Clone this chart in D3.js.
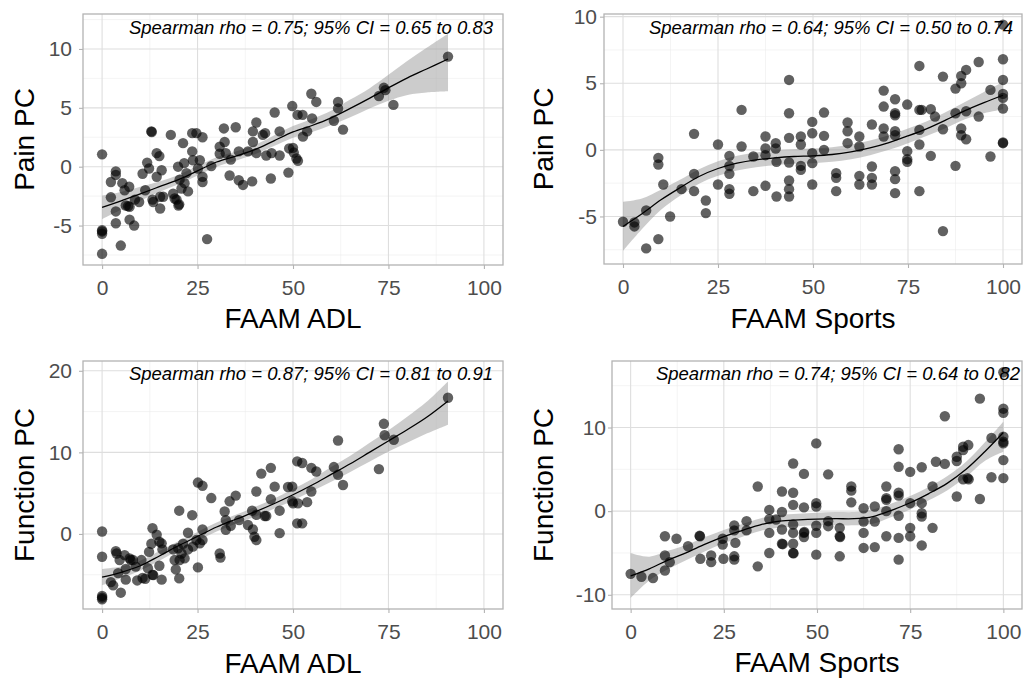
<!DOCTYPE html>
<html><head><meta charset="utf-8">
<script src="https://cdn.jsdelivr.net/npm/d3@7"></script>
<style>
body{margin:0;background:#fff}
svg{display:block}
text{font-family:"Liberation Sans",Arial,Helvetica,sans-serif}
</style>
</head><body>
<svg id="chart" width="1026" height="680"></svg>
<script>
// ---------- shared ticks ----------
const xTicks = [0, 25, 50, 75, 100];
const xMinor = [12.5, 37.5, 62.5, 87.5];

// ---------- Panel 1: Pain PC vs FAAM ADL ----------
const p1Points = [[0,1.05],[0,-5.4],[0,-5.5],[0,-5.7],[0,-7.4],[2.3,-1.3],[2.3,-2.6],[3.6,-0.4],[3.6,-0.7],[3.6,-3.8],[3.6,-4.8],[4.9,-6.7],[5.3,-1.4],[5.9,-2.0],[6.2,-3.3],[6.8,-3.35],[7.1,-1.7],[7.2,-3.4],[7.2,-4.5],[8.4,-5.0],[8.6,-2.8],[9.7,-3.0],[10.6,-0.6],[11.3,-2.0],[11.8,0.35],[12.3,-0.15],[12.9,3.0],[13.0,2.95],[13.2,-2.8],[13.4,-3.0],[14.3,1.15],[14.3,-0.85],[15.0,0.9],[15.2,-2.55],[15.2,-3.55],[15.6,-0.3],[16.0,-2.55],[18.0,2.7],[18.6,-2.3],[19.0,-2.7],[19.5,-2.8],[19.9,0],[20.0,-3.3],[20.2,-3.2],[20.3,-1.1],[20.8,-1.85],[21.2,2.0],[21.5,0.3],[21.6,-1.4],[22.1,-0.55],[22.5,-2.1],[23.6,2.85],[23.6,1.3],[23.8,0.55],[24.7,2.85],[25.1,-0.15],[25.6,0.55],[26.3,2.5],[26.3,-0.85],[26.3,-1.3],[27.5,-6.15],[28.6,0.05],[30.8,1.7],[30.8,1.1],[31.9,3.25],[32.1,2.1],[32.4,1.15],[33.4,-0.75],[33.7,0.6],[35.0,3.35],[35.8,-1.15],[35.8,1.3],[36.9,-1.55],[38.2,1.3],[39.3,-1.25],[39.5,3.0],[39.5,2.1],[40.4,3.75],[40.4,1.15],[42.1,2.7],[42.7,2.85],[43.0,0.95],[44.2,-1.0],[44.4,1.15],[45.2,4.6],[46.5,3.0],[46.5,0.95],[48.8,-0.5],[49.0,1.55],[49.8,5.15],[50.0,1.6],[50.2,1.2],[50.9,0.7],[51.3,0.5],[51.2,4.4],[52.5,4.4],[52.6,2.55],[53.7,3.0],[54.8,6.2],[55.0,4.1],[56.1,5.5],[60.7,3.9],[61.8,5.5],[61.8,4.95],[63.1,3.15],[72.5,6.0],[73.8,6.7],[74.2,6.5],[76.3,5.25],[90.6,9.35]];
const p1FitX = [0,5,10,15,20,25,30,35,40,45,50,55,60,65,70,75,80,85,90.6];
const p1Fit  = [-3.45,-2.9,-2.3,-1.7,-1.1,-0.35,0.4,0.9,1.45,2.2,2.95,3.5,4.15,4.95,5.8,6.7,7.55,8.3,9.15];
const p1Lo   = [-4.45,-3.65,-2.9,-2.15,-1.5,-0.75,0.0,0.5,1.05,1.75,2.45,2.95,3.55,4.2,4.95,5.6,6.1,6.3,6.4];
const p1Hi   = [-2.45,-2.15,-1.7,-1.25,-0.7,0.05,0.8,1.3,1.85,2.65,3.45,4.05,4.75,5.7,6.65,7.8,9.0,10.1,11.3];
const p1YTicks = [-5, 0, 5, 10];
const p1YMinor = [-7.5, -2.5, 2.5, 7.5, 12.5];

// ---------- Panel 2: Pain PC vs FAAM Sports ----------
const p2Points = [[0,-5.4],[3.0,-5.45],[3.0,-5.75],[6.1,-4.55],[6.1,-7.4],[9.3,-0.6],[9.3,-1.1],[9.3,-6.7],[10.6,-2.6],[12.4,-5.0],[15.4,-2.95],[18.7,1.2],[18.7,-1.8],[18.7,-3.1],[21.8,-3.8],[21.8,-4.75],[25.0,0.4],[25.0,-2.6],[28.0,-0.45],[28.0,-1.2],[28.0,-1.8],[28.0,-2.95],[28.0,-3.3],[31.2,3.0],[31.2,0.25],[34.3,-0.5],[34.3,-3.1],[37.5,1.0],[37.5,0.1],[37.5,-0.4],[37.5,-2.7],[40.2,0.5],[40.2,0.1],[40.4,-0.9],[40.4,-3.5],[43.7,5.25],[43.7,2.75],[43.7,0.9],[43.7,-0.95],[43.7,-2.3],[43.7,-2.95],[43.7,-3.5],[46.8,1.0],[46.8,0.4],[46.8,-1.2],[46.8,-1.5],[49.8,2.1],[49.8,1.25],[49.8,-0.25],[49.8,-1.0],[49.8,-2.6],[52.9,2.8],[52.9,1.05],[52.9,0],[56.1,-1.75],[56.1,-2.1],[56.1,-3.1],[59.1,2.05],[59.1,1.4],[59.1,0.5],[62.2,1.0],[62.2,0.25],[62.2,-1.95],[62.2,-2.6],[65.5,1.9],[65.5,-1.25],[65.5,-2.1],[65.5,-2.6],[68.6,4.45],[68.6,3.25],[68.6,1.6],[68.6,1.0],[71.6,3.8],[71.6,2.75],[71.6,2.6],[71.6,1.4],[71.6,1.1],[71.6,-1.6],[71.6,-2.2],[71.6,-3.25],[74.8,3.4],[74.8,-0.1],[74.8,-0.7],[74.8,-0.9],[78.0,6.3],[78.0,3.0],[78.6,3.0],[78.0,1.5],[78.0,0.4],[78.0,-3.1],[81.0,3.05],[81.0,-0.45],[82.1,2.5],[84.2,5.5],[84.2,1.55],[84.2,-6.1],[87.5,4.6],[87.5,2.75],[87.5,-1.2],[89.0,5.55],[89.0,5.0],[89.0,1.6],[89.0,1.1],[90.3,6.0],[90.3,2.9],[90.3,0.8],[93.6,6.6],[93.6,2.5],[96.7,4.5],[96.7,-0.5],[100,9.4],[100,6.8],[100,5.25],[100,4.2],[100,3.9],[100,3.1],[100,0.5],[100,0.55]];
const p2FitX = [0,5,10,15,20,25,30,35,40,45,50,55,60,65,70,75,80,85,90,95,100];
const p2Fit  = [-5.75,-4.8,-3.75,-2.85,-2.0,-1.4,-1.0,-0.75,-0.6,-0.5,-0.45,-0.35,-0.15,0.15,0.55,1.05,1.6,2.25,2.95,3.55,4.1];
const p2Lo   = [-7.6,-5.95,-4.5,-3.45,-2.55,-1.95,-1.55,-1.3,-1.15,-1.05,-1.0,-0.9,-0.7,-0.4,0.0,0.5,1.05,1.65,2.3,2.75,3.05];
const p2Hi   = [-3.9,-3.65,-3.0,-2.25,-1.45,-0.85,-0.45,-0.2,-0.05,0.05,0.1,0.2,0.4,0.7,1.1,1.6,2.15,2.85,3.6,4.35,5.1];
const p2YTicks = [-5, 0, 5, 10];
const p2YMinor = [-7.5, -2.5, 2.5, 7.5];

// ---------- Panel 3: Function PC vs FAAM ADL ----------
const p3Points = [[0,0.3],[0,-2.8],[0,-7.6],[0,-7.8],[0,-8.0],[2.3,-5.9],[2.9,-6.3],[3.6,-2.1],[3.8,-2.4],[4.2,-4.8],[4.6,-3.2],[4.9,-7.2],[5.9,-2.6],[6.2,-4.3],[6.2,-5.6],[7.2,-3.0],[7.5,-3.2],[8.1,-3.2],[8.8,-4.0],[9.2,-5.7],[10.3,-3.2],[10.6,-5.4],[11.3,-5.5],[12.0,-4.2],[12.3,-2.2],[12.9,-1.2],[13.2,0.7],[13.2,-5.0],[13.4,-5.05],[14.3,-0.1],[15.0,-0.95],[15.0,-3.9],[15.6,-1.15],[15.6,-5.6],[15.8,-1.9],[18.6,-1.9],[19.0,-3.2],[19.3,-4.35],[19.9,-1.75],[20.2,2.85],[20.2,-5.45],[20.3,-3.2],[20.8,-2.4],[21.2,-1.2],[21.6,-3.0],[22.5,0.15],[22.5,-1.9],[23.6,2.3],[23.8,-1.55],[24.7,-0.75],[25.1,6.3],[25.1,-4.1],[25.6,-1.15],[26.3,5.9],[26.3,0.55],[26.3,-0.75],[28.6,4.4],[30.8,-2.4],[31.0,-2.9],[32.1,2.75],[32.4,0.5],[32.4,1.7],[33.4,4.0],[33.7,1.0],[35.0,4.7],[35.9,1.7],[38.2,1.1],[39.3,2.85],[39.5,0.55],[39.9,-0.35],[40.4,5.2],[40.4,2.35],[40.4,-0.75],[41.7,7.4],[42.6,2.2],[43.0,2.2],[44.2,8.1],[44.2,4.25],[45.2,5.8],[46.5,2.85],[46.5,0.1],[48.7,5.75],[49.8,5.8],[49.8,4.0],[50.0,3.75],[51.1,8.9],[51.1,1.3],[51.3,3.75],[52.4,8.7],[52.4,1.3],[53.7,3.9],[54.8,8.1],[54.8,5.2],[56.1,7.65],[60.7,8.2],[61.8,11.45],[61.8,7.25],[63.1,6.0],[72.5,7.95],[73.8,13.5],[74.0,12.1],[76.4,11.55],[90.6,16.7]];
const p3FitX = [0,5,10,15,20,25,30,35,40,45,50,55,60,65,70,75,80,85,90.6];
const p3Fit  = [-5.3,-4.7,-3.9,-2.7,-1.45,-0.3,0.85,1.8,2.7,3.7,4.8,6.0,7.3,8.6,10.0,11.4,12.8,14.3,16.3];
const p3Lo   = [-6.3,-5.4,-4.5,-3.3,-2.0,-0.85,0.3,1.25,2.1,3.1,4.1,5.25,6.4,7.6,8.85,10.1,11.2,12.3,13.4];
const p3Hi   = [-4.3,-4.0,-3.3,-2.1,-0.9,0.25,1.4,2.35,3.3,4.3,5.5,6.75,8.2,9.6,11.15,12.7,14.4,16.2,18.7];
const p3YTicks = [0, 10, 20];
const p3YMinor = [-5, 5, 15];

// ---------- Panel 4: Function PC vs FAAM Sports ----------
const p4Points = [[0,-7.5],[2.9,-7.85],[6.0,-8.0],[9.2,-3.0],[9.2,-5.3],[9.2,-7.1],[10.5,-6.1],[12.3,-3.3],[15.4,-4.2],[18.5,-2.95],[18.6,-3.0],[18.7,-5.7],[21.6,-5.3],[21.6,-6.1],[24.7,-3.3],[24.7,-4.0],[24.9,-5.7],[27.8,-1.7],[27.8,-2.3],[28.1,-3.8],[27.8,-5.4],[27.8,-5.8],[31.1,-1.2],[31.1,-2.3],[34.1,2.95],[34.1,-6.6],[37.2,0.15],[37.2,-0.95],[37.2,-2.6],[37.2,-5.0],[39.0,-1.0],[40.6,2.35],[40.6,-0.1],[40.6,-2.2],[40.6,-3.9],[40.8,-3.95],[43.6,5.7],[43.6,2.2],[43.6,0.75],[43.6,-1.6],[43.6,-2.6],[43.6,-3.9],[43.6,-5.0],[43.7,-5.05],[46.5,4.45],[46.5,0.45],[46.5,-2.6],[46.5,-3.1],[46.6,-2.5],[49.8,8.1],[49.8,0.95],[49.8,0.55],[49.8,-1.75],[49.8,-2.6],[49.8,-5.2],[53.0,4.4],[53.0,-1.2],[53.0,-1.8],[56.1,-2.0],[56.1,-3.0],[56.2,-3.1],[56.1,-5.4],[59.2,2.95],[59.2,2.45],[59.2,1.05],[62.5,0.35],[62.5,-1.25],[62.5,-2.6],[62.5,-4.4],[65.5,0.55],[65.5,-1.25],[65.5,-4.3],[68.6,2.95],[68.6,1.55],[68.6,1.35],[68.6,0],[68.6,-3.0],[71.9,7.4],[71.9,5.3],[71.9,2.2],[71.9,1.85],[71.9,-0.55],[71.9,-3.2],[71.9,-5.8],[75.0,4.7],[75.0,0.95],[75.0,-2.0],[75.0,-3.0],[78.1,5.25],[78.1,0.95],[78.1,-0.25],[78.1,-0.65],[78.1,-4.1],[81.0,2.95],[81.0,-2.0],[81.9,5.9],[84.3,11.35],[84.3,5.65],[87.5,6.5],[87.5,6.0],[87.5,1.75],[89.2,7.7],[89.2,7.3],[89.2,3.8],[90.4,3.95],[90.6,7.9],[90.7,3.8],[93.7,13.45],[93.7,1.45],[96.8,8.75],[96.8,4.05],[100,16.6],[100,12.25],[100,11.75],[100,8.9],[100,8.3],[100,8.1],[100,6.1],[100,3.95]];
const p4FitX = [0,5,10,15,20,25,30,35,40,45,50,55,60,65,70,75,80,85,90,95,100];
const p4Fit  = [-7.75,-6.9,-5.85,-4.95,-3.95,-3.05,-2.3,-1.6,-1.2,-1.05,-0.95,-0.9,-0.9,-0.65,0.1,1.0,2.1,3.35,5.0,7.1,9.4];
const p4Lo   = [-10.4,-8.3,-6.95,-5.85,-4.8,-3.85,-3.05,-2.35,-1.95,-1.8,-1.7,-1.7,-1.7,-1.5,-0.7,0.2,1.3,2.5,4.1,6.0,7.1];
const p4Hi   = [-5.0,-5.45,-4.75,-4.05,-3.1,-2.25,-1.55,-0.85,-0.45,-0.3,-0.2,-0.1,-0.1,0.2,0.9,1.8,2.9,4.2,5.9,8.2,10.7];
const p4YTicks = [-10, 0, 10];
const p4YMinor = [-5, 5, 15];

// ---------- labels ----------
const xLabels = ["FAAM ADL", "FAAM Sports", "FAAM ADL", "FAAM Sports"];
const yLabels = ["Pain PC", "Pain PC", "Function PC", "Function PC"];
const notes = [
  "Spearman rho = 0.75; 95% CI = 0.65 to 0.83",
  "Spearman rho = 0.64; 95% CI = 0.50 to 0.74",
  "Spearman rho = 0.87; 95% CI = 0.81 to 0.91",
  "Spearman rho = 0.74; 95% CI = 0.64 to 0.82"
];

// ---------- layout (pixels) ----------
const panels = [
  {box:{l:83,r:503,t:14,b:265}, yDom:[-8.35,12.97], yT:p1YTicks, yM:p1YMinor, pts:p1Points, fx:p1FitX, fit:p1Fit, lo:p1Lo, hi:p1Hi, yPad:7, yTitleX:34, xTitleY:328, noteX:493, noteY:34},
  {box:{l:604,r:1022,t:14,b:264}, yDom:[-8.57,10.2], yT:p2YTicks, yM:p2YMinor, pts:p2Points, fx:p2FitX, fit:p2Fit, lo:p2Lo, hi:p2Hi, yPad:3, yTitleX:553, xTitleY:328, noteX:1013, noteY:34},
  {box:{l:83,r:503,t:361,b:609}, yDom:[-9.2,21.2], yT:p3YTicks, yM:p3YMinor, pts:p3Points, fx:p3FitX, fit:p3Fit, lo:p3Lo, hi:p3Hi, yPad:7, yTitleX:34, xTitleY:673, noteX:493, noteY:380},
  {box:{l:612,r:1022,t:361,b:609}, yDom:[-11.7,17.95], yT:p4YTicks, yM:p4YMinor, pts:p4Points, fx:p4FitX, fit:p4Fit, lo:p4Lo, hi:p4Hi, yPad:2, yTitleX:553, xTitleY:672, noteX:1020, noteY:380}
];

const svg = d3.select("#chart");
const fmt = d => String(d);

panels.forEach((p, i) => {
  const {l, r, t, b} = p.box;
  const x = d3.scaleLinear().domain([-5, 105]).range([l, r]);
  const y = d3.scaleLinear().domain(p.yDom).range([b, t]);
  const g = svg.append("g");

  // minor grid
  g.selectAll(".mx").data(xMinor).enter().append("line")
    .attr("x1", d => x(d)).attr("x2", d => x(d)).attr("y1", t).attr("y2", b)
    .attr("stroke", "#ededed").attr("stroke-width", 0.6);
  g.selectAll(".my").data(p.yM.filter(v => v > p.yDom[0] && v < p.yDom[1])).enter().append("line")
    .attr("x1", l).attr("x2", r).attr("y1", d => y(d)).attr("y2", d => y(d))
    .attr("stroke", "#ededed").attr("stroke-width", 0.6);
  // major grid
  g.selectAll(".Mx").data(xTicks).enter().append("line")
    .attr("x1", d => x(d)).attr("x2", d => x(d)).attr("y1", t).attr("y2", b)
    .attr("stroke", "#dedede").attr("stroke-width", 1.1);
  g.selectAll(".My").data(p.yT).enter().append("line")
    .attr("x1", l).attr("x2", r).attr("y1", d => y(d)).attr("y2", d => y(d))
    .attr("stroke", "#dedede").attr("stroke-width", 1.1);

  // ribbon
  const band = p.fx.map((xv, k) => ({x: xv, lo: p.lo[k], hi: p.hi[k], f: p.fit[k]}));
  g.append("path").datum(band)
    .attr("d", d3.area().x(d => x(d.x)).y0(d => y(d.lo)).y1(d => y(d.hi)).curve(d3.curveCatmullRom))
    .attr("fill", "#999999").attr("fill-opacity", 0.5);

  // points
  g.selectAll(".pt").data(p.pts).enter().append("circle")
    .attr("cx", d => x(d[0])).attr("cy", d => y(d[1])).attr("r", 5.2)
    .attr("fill", "#000").attr("fill-opacity", 0.62);

  // fit line
  g.append("path").datum(band)
    .attr("d", d3.line().x(d => x(d.x)).y(d => y(d.f)).curve(d3.curveCatmullRom))
    .attr("fill", "none").attr("stroke", "#000").attr("stroke-width", 1.3);

  // panel border
  g.append("rect").attr("x", l).attr("y", t).attr("width", r - l).attr("height", b - t)
    .attr("fill", "none").attr("stroke", "#b3b3b3").attr("stroke-width", 1.3);

  // axes
  const ax = g.append("g").attr("transform", `translate(0,${b})`)
    .call(d3.axisBottom(x).tickValues(xTicks).tickSize(4).tickPadding(11).tickFormat(fmt));
  const ay = g.append("g").attr("transform", `translate(${l},0)`)
    .call(d3.axisLeft(y).tickValues(p.yT).tickSize(4).tickPadding(p.yPad).tickFormat(fmt));
  [ax, ay].forEach(a => {
    a.select(".domain").remove();
    a.selectAll(".tick line").attr("stroke", "#b3b3b3").attr("stroke-width", 1.1);
    a.selectAll(".tick text").attr("fill", "#4d4d4d").style("font-size", "21px")
      .style("font-family", '"Liberation Sans", Arial, sans-serif');
  });

  // titles
  svg.append("text").attr("x", (l + r) / 2).attr("y", p.xTitleY).attr("text-anchor", "middle")
    .style("font-size", "28px").attr("fill", "#000").text(xLabels[i]);
  svg.append("text").attr("transform", `translate(${p.yTitleX},${(t + b) / 2}) rotate(-90)`)
    .attr("text-anchor", "middle").style("font-size", "28px").attr("fill", "#000").text(yLabels[i]);
  // annotation
  svg.append("text").attr("x", p.noteX).attr("y", p.noteY).attr("text-anchor", "end")
    .style("font-size", "18.5px").style("font-style", "italic").attr("fill", "#000").text(notes[i]);
});
</script>
</body></html>
